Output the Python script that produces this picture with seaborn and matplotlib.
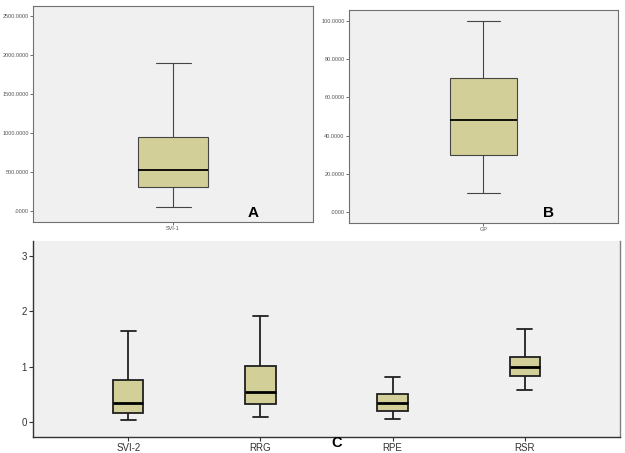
import matplotlib
matplotlib.use("Agg")
import matplotlib.pyplot as plt
import pandas as pd
import seaborn as sns

# five-number summaries (min, Q1, median, Q3, max)
svi1 = [50, 310, 530, 950, 1900]
gp = [10, 30, 48, 70, 100]
c_labels = ["SVI-2", "RRG", "RPE", "RSR"]
svi2 = [0.04, 0.16, 0.35, 0.76, 1.64]
rrg = [0.10, 0.33, 0.55, 1.02, 1.92]
rpe = [0.05, 0.20, 0.35, 0.50, 0.82]
rsr = [0.58, 0.83, 1.00, 1.18, 1.68]

a_ticks = [0, 500, 1000, 1500, 2000, 2500]
b_ticks = [0, 20, 40, 60, 80, 100]
c_ticks = [0, 1, 2, 3]

BOX = "#D3CF98"
BG = "#F0F0F0"

sns.set_style("white")
plt.rcParams["font.family"] = ["Liberation Sans", "DejaVu Sans"]

fig = plt.figure(figsize=(6.25, 4.53), dpi=100)
ax_a = fig.add_axes([0.053, 0.510, 0.448, 0.477])
ax_b = fig.add_axes([0.558, 0.508, 0.431, 0.470])
ax_c = fig.add_axes([0.053, 0.035, 0.939, 0.433])


def small_panel(ax, name, vals, ticks, ylim, letter, lx, ly):
    df = pd.DataFrame({"var": name, "val": vals})
    sns.boxplot(data=df, x="var", y="val", ax=ax, whis=(0, 100), width=0.25,
                color=BOX, saturation=1, linewidth=0.8, linecolor="#454545",
                medianprops=dict(color="black", linewidth=1.3))
    ax.set_facecolor(BG)
    ax.set_xlim(-0.5, 0.5)
    ax.set_ylim(*ylim)
    ax.set_yticks(ticks)
    ax.set_yticklabels([".0000" if t == 0 else f"{t:.4f}" for t in ticks])
    ax.tick_params(axis="both", labelsize=4, length=2, width=0.6, colors="#555555",
                   pad=1, left=True, bottom=True)
    ax.set_xlabel("")
    ax.set_ylabel("")
    for s in ax.spines.values():
        s.set_color("#707070")
        s.set_linewidth(0.8)
    ax.text(lx, ly, letter, transform=ax.transAxes, fontsize=11, color="black",
            fontweight="bold", ha="center", va="center")


small_panel(ax_a, "SVI-1", svi1, a_ticks, (-140, 2635), "A", 0.786, 0.042)
small_panel(ax_b, "GP", gp, b_ticks, (-5.6, 105.6), "B", 0.74, 0.047)

# panel C
rows = []
for lab, vals in zip(c_labels, [svi2, rrg, rpe, rsr]):
    for v in vals:
        rows.append({"var": lab, "val": v})
df_c = pd.DataFrame(rows)
sns.boxplot(data=df_c, x="var", y="val", order=c_labels, ax=ax_c, whis=(0, 100),
            width=0.23, color=BOX, saturation=1, linewidth=1.3, linecolor="#202020",
            medianprops=dict(color="black", linewidth=2))
ax_c.set_facecolor(BG)
ax_c.set_xlim(-0.72, 3.72)
ax_c.set_ylim(-0.27, 3.27)
ax_c.set_yticks(c_ticks)
ax_c.tick_params(axis="both", labelsize=7, length=3, width=0.8, colors="#333333",
                 pad=1.5, left=True, bottom=True)
ax_c.set_xlabel("")
ax_c.set_ylabel("")
ax_c.spines["top"].set_visible(False)
ax_c.spines["left"].set_color("#333333")
ax_c.spines["bottom"].set_color("#333333")
ax_c.spines["right"].set_color("#808080")
for s in ax_c.spines.values():
    s.set_linewidth(1.0)
ax_c.text(0.518, -0.03, "C", transform=ax_c.transAxes, fontsize=10.5, color="black",
          fontweight="bold", ha="center", va="center")

fig.savefig("out.png", dpi=100, facecolor="white")
